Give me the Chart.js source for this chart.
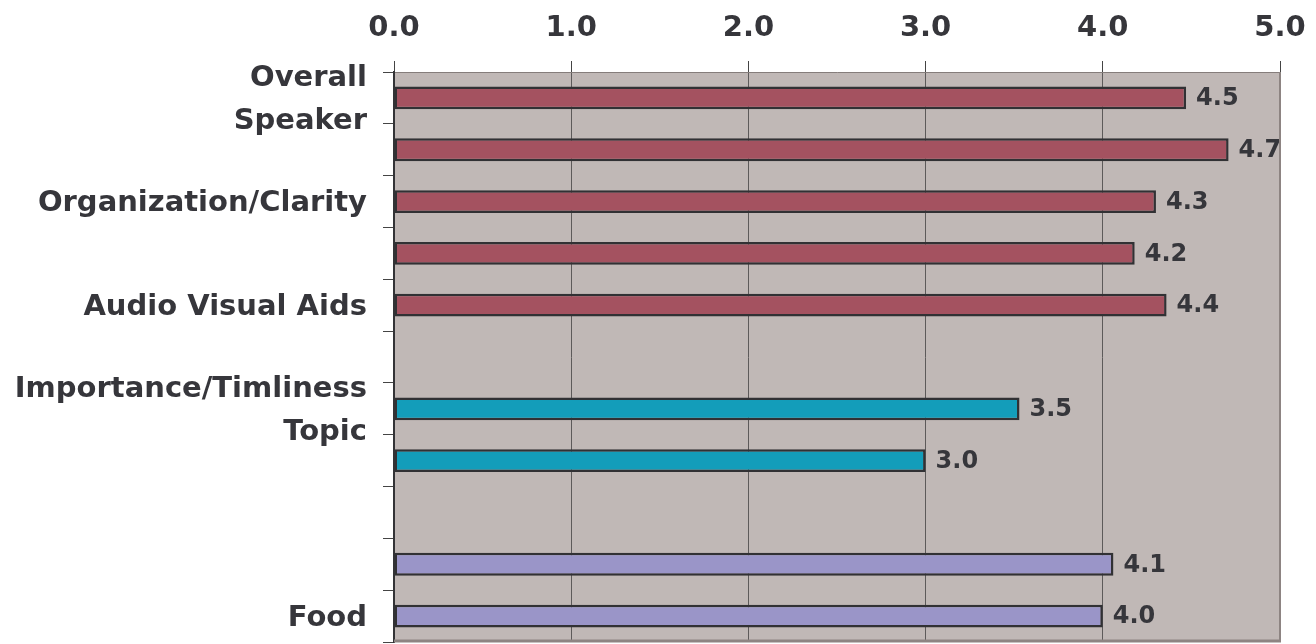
<!DOCTYPE html>
<html>
<head>
<meta charset="utf-8">
<script src="https://cdn.jsdelivr.net/npm/chart.js@4/dist/chart.umd.min.js"></script>
<style>
  html, body { margin: 0; padding: 0; background: #fff; }
  canvas { display: block; }
</style>
</head>
<body>
<canvas id="rating_chart" width="1316" height="644"></canvas>
<script>
// カテゴリ（空文字は表示されない行）
const categories = [
    ['Overall', 'Speaker'], '', 'Organization/Clarity', '', 'Audio Visual Aids', '',
    ['Importance/Timliness', 'Topic'], '', '', '', 'Food'
];
// 評価値
const scores = [4.47, 4.71, 4.30, 4.18, 4.36, null, 3.53, 3.00, null, 4.06, 4.00];
// X軸の目盛り
const xTickValues = [0, 1, 2, 3, 4, 5];

// 棒の色（グループ別）
const maroon = '#a45260';
const teal = '#139dba';
const lavender = '#9a95c8';
const barColors = [maroon, maroon, maroon, maroon, maroon, maroon, teal, teal, teal, lavender, lavender];

const FONT = '"DejaVu Sans", Verdana, sans-serif';
const TEXT = '#36363b';

// プロットエリアの背景と枠
const plotArea = {
    id: 'plotArea',
    beforeDraw(chart) {
        const { ctx, chartArea: a } = chart;
        ctx.save();
        ctx.fillStyle = '#c0b8b6';
        ctx.fillRect(a.left, a.top, a.right - a.left, a.bottom - a.top);
        ctx.restore();
    },
    afterDraw(chart) {
        const { ctx, chartArea: a } = chart;
        ctx.save();
        ctx.strokeStyle = '#8d8482';
        ctx.lineWidth = 2;
        ctx.beginPath();
        ctx.moveTo(a.right, a.top);
        ctx.lineTo(a.right, a.bottom);
        ctx.stroke();
        ctx.lineWidth = 3;
        ctx.beginPath();
        ctx.moveTo(a.left, a.bottom - 1);
        ctx.lineTo(a.right + 1, a.bottom - 1);
        ctx.stroke();
        ctx.restore();
    }
};

// 棒の右に数値ラベル
const valueLabels = {
    id: 'valueLabels',
    afterDatasetsDraw(chart) {
        const { ctx } = chart;
        const meta = chart.getDatasetMeta(0);
        ctx.save();
        ctx.font = 'bold 24px ' + FONT;
        ctx.fillStyle = TEXT;
        ctx.textAlign = 'left';
        ctx.textBaseline = 'middle';
        meta.data.forEach((bar, i) => {
            if (scores[i] == null) return;
            ctx.fillText(scores[i].toFixed(1), bar.x + 10, bar.y + 1);
        });
        ctx.restore();
    }
};

new Chart(document.getElementById('rating_chart'), {
    type: 'bar',
    data: {
        labels: categories,
        datasets: [{
            data: scores,
            backgroundColor: barColors,
            borderColor: '#313134',
            borderWidth: 2.5,
            borderSkipped: false,
            categoryPercentage: 1,
            barPercentage: 0.44,
        }],
    },
    options: {
        indexAxis: 'y',
        responsive: false,
        devicePixelRatio: 1,
        animation: false,
        layout: { padding: { left: 0, right: 36, top: 0, bottom: 2 } },
        plugins: {
            legend: { display: false },
            tooltip: { enabled: false },
        },
        scales: {
            x: {
                position: 'top',
                min: 0,
                max: 5,
                afterBuildTicks: (scale) => { scale.ticks = xTickValues.map(v => ({ value: v })); },
                afterFit: (scale) => {
                    scale.height = 72;
                    scale.paddingLeft = 0;
                    scale.paddingRight = 0;
                },
                ticks: {
                    callback: (v) => Number(v).toFixed(1),
                    font: { family: FONT, size: 29, weight: 'bold' },
                    color: TEXT,
                    padding: 15,
                    maxRotation: 0,
                },
                grid: { color: '#5d5a5a', lineWidth: 1, tickLength: 11, tickColor: '#444' },
                border: { color: '#857d7b', width: 1 },
            },
            y: {
                afterFit: (scale) => {
                    scale.width = 394;
                    scale.paddingTop = 0;
                    scale.paddingBottom = 0;
                },
                ticks: {
                    autoSkip: false,
                    font: { family: FONT, size: 29, weight: 'bold', lineHeight: 1.47 },
                    color: TEXT,
                    padding: 16,
                    labelOffset: 2,
                },
                grid: { offset: true, drawOnChartArea: false, tickLength: 11, color: '#444' },
                border: { color: '#333336', width: 2 },
            },
        },
    },
    plugins: [plotArea, valueLabels],
});
</script>
</body>
</html>
